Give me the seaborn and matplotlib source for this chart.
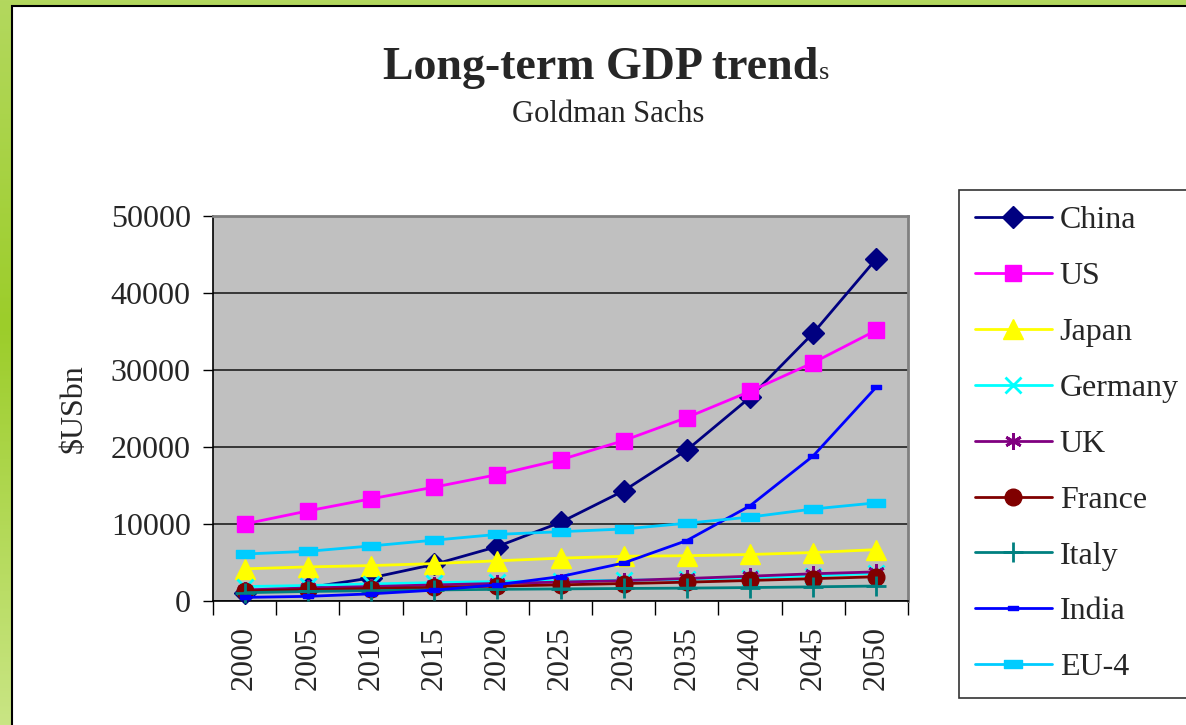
import matplotlib
matplotlib.use("Agg")
import matplotlib.pyplot as plt
import numpy as np
import pandas as pd
import seaborn as sns
from matplotlib.colors import LinearSegmentedColormap
from matplotlib.patches import Rectangle
from matplotlib.path import Path as MPath

YEARS = [2000, 2005, 2010, 2015, 2020, 2025, 2030, 2035, 2040, 2045, 2050]

CHINA = [1078, 1724, 2998, 4754, 7070, 10213, 14312, 19605, 26439, 34799, 44453]
US = [10000, 11697, 13271, 14786, 16415, 18340, 20833, 23828, 27229, 30956, 35165]
JAPAN = [4176, 4427, 4601, 4858, 5221, 5567, 5810, 5882, 6039, 6297, 6673]
GERMANY = [1875, 2011, 2212, 2386, 2524, 2604, 2697, 2815, 3018, 3277, 3603]
UK = [1437, 1688, 1876, 2089, 2280, 2456, 2651, 2923, 3223, 3536, 3782]
FRANCE = [1311, 1489, 1622, 1767, 1930, 2097, 2267, 2445, 2668, 2898, 3148]
ITALY = [1078, 1236, 1337, 1435, 1516, 1573, 1625, 1672, 1747, 1838, 1944]
INDIA = [469, 604, 929, 1411, 2104, 3174, 4935, 7854, 12367, 18847, 27803]
EU4 = [6100, 6450, 7150, 7900, 8650, 9000, 9350, 10100, 10900, 11950, 12750]

COUNTRIES = ["China", "US", "Japan", "Germany", "UK", "France", "Italy", "India", "EU-4"]
SERIES = [CHINA, US, JAPAN, GERMANY, UK, FRANCE, ITALY, INDIA, EU4]

COLORS = {
    "China": "#000080", "US": "#FF00FF", "Japan": "#FFFF00", "Germany": "#00FFFF",
    "UK": "#800080", "France": "#800000", "Italy": "#008080", "India": "#0000FF",
    "EU-4": "#00CCFF",
}
# excel-ish marker shapes
dash = MPath([(-1, -0.45), (1, -0.45), (1, 0.45), (-1, 0.45), (-1, -0.45)],
             [1, 2, 2, 2, 79])
MARKERS = {
    "China": "D", "US": "s", "Japan": "^", "Germany": "x", "UK": (6, 2, 0),
    "France": "o", "Italy": "+", "India": dash, "EU-4": dash,
}
SIZES = {
    "China": 11, "US": 12, "Japan": 15, "Germany": 11, "UK": 12,
    "France": 12, "Italy": 14, "India": 7, "EU-4": 13,
}

SERIF = ["Liberation Serif", "DejaVu Serif"]
FS = 23

df = pd.DataFrame(
    [(y, c, v) for c, vals in zip(COUNTRIES, SERIES) for y, v in zip(YEARS, vals)],
    columns=["Year", "Country", "GDP"],
)

sns.set_style("white")
plt.rcParams["font.family"] = SERIF

fig = plt.figure(figsize=(11.86, 7.25), dpi=100)

# green gradient frame + white panel
bg = fig.add_axes([0, 0, 1, 1], zorder=-10)
cmap = LinearSegmentedColormap.from_list(
    "frame", [(0, "#b3d85e"), (0.45, "#9ccd2a"), (1, "#c9e584")])
bg.imshow(np.linspace(0, 1, 256).reshape(-1, 1), aspect="auto", cmap=cmap,
          extent=[0, 1, 0, 1])
bg.add_patch(Rectangle((12 / 1186, -0.01), 1.0, 1 - 6 / 725 + 0.01,
                       facecolor="white", edgecolor="black", linewidth=1.5))
bg.set_xlim(0, 1)
bg.set_ylim(0, 1)
bg.axis("off")

ax = fig.add_axes([213 / 1186, 1 - 601 / 725, (908 - 213) / 1186, (601 - 216) / 725])
ax.set_facecolor("#C0C0C0")

sns.lineplot(data=df, x="Year", y="GDP", hue="Country", hue_order=COUNTRIES,
             palette=COLORS, linewidth=2.0, legend=False, ax=ax)

for i, line in enumerate(ax.lines):
    name = COUNTRIES[i]
    line.set_marker(MARKERS[name])
    line.set_markeredgecolor(COLORS[name])
    line.set_markerfacecolor(COLORS[name])
    line.set_markersize(SIZES[name])
    line.set_markeredgewidth(2.0 if name in ("Germany", "UK", "Italy") else 1.0)
    line.set_zorder(3 + i)
    line.set_clip_on(False)

ax.set_xlim(1997.5, 2052.5)
ax.set_ylim(0, 50000)
ax.set_yticks(range(0, 50001, 10000))
ax.yaxis.grid(True, color="#202020", linewidth=1.2)
ax.set_axisbelow(True)
ax.set_xticks(YEARS)
ax.set_xticklabels([str(y) for y in YEARS], rotation=90)
ax.set_xticks(np.arange(1997.5, 2053, 5), minor=True)
ax.tick_params(axis="x", which="major", length=0, pad=18, labelsize=FS)
ax.tick_params(axis="x", which="minor", length=10, width=1, color="black",
               direction="out", bottom=True)
ax.tick_params(axis="y", length=7, width=1, color="black", direction="out",
               left=True, labelsize=FS, pad=9)
for lab in ax.get_xticklabels() + ax.get_yticklabels():
    lab.set_family(SERIF)

ax.set_xlabel("")
ax.set_ylabel("$USbn", fontsize=FS, labelpad=16)
for side in ("top", "right"):
    ax.spines[side].set_color("#808080")
    ax.spines[side].set_linewidth(2)
for side in ("left", "bottom"):
    ax.spines[side].set_color("black")
    ax.spines[side].set_linewidth(1.2)

fig.text(818 / 1186, 1 - 79 / 725, "Long-term GDP trend", ha="right",
         va="baseline", fontsize=33, fontweight="bold")
fig.text(819 / 1186, 1 - 79 / 725, "s", ha="left", va="baseline", fontsize=19)
fig.text(608 / 1186, 1 - 122 / 725, "Goldman Sachs", ha="center",
         va="baseline", fontsize=22)

leg = fig.legend(handles=ax.lines, labels=COUNTRIES, loc="upper left",
                 bbox_to_anchor=(959 / 1186, 1 - 190 / 725), fontsize=FS,
                 frameon=True, fancybox=False, edgecolor="black",
                 handlelength=2.4, handletextpad=0.25, labelspacing=0.83,
                 borderpad=0.5, borderaxespad=0)
leg.get_frame().set_linewidth(1.2)

fig.savefig("out.png", dpi=100)
